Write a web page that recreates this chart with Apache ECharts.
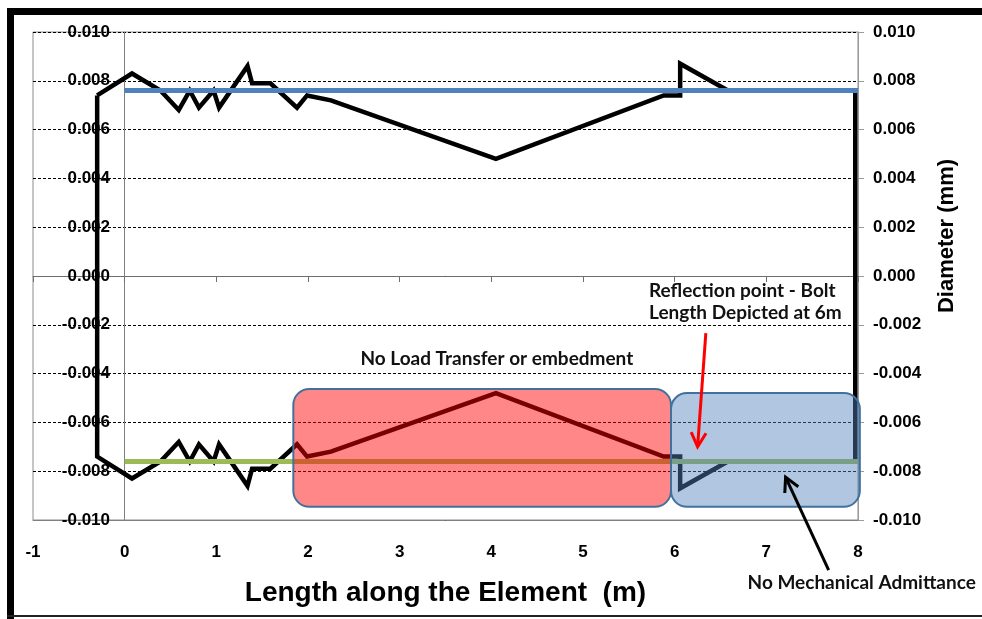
<!DOCTYPE html>
<html>
<head>
<meta charset="utf-8">
<script src="https://cdn.jsdelivr.net/npm/echarts@6/dist/echarts.min.js"></script>
<style>
  html, body { margin: 0; padding: 0; background: #fff; }
  #chart { width: 982px; height: 619px; }
</style>
</head>
<body>
<div id="chart"></div>
<script>
// Bolt profile: positions along the element (m) and the upper / lower diameter traces (mm)
const profileX = [-0.3, 0.08, 0.39, 0.59, 0.71, 0.81, 0.97, 1.03, 1.34, 1.39, 1.59, 1.88, 1.99, 2.25, 4.05, 5.88, 6.06, 6.06, 6.58, 7.97];
const upperY   = [0.0074, 0.0083, 0.0076, 0.0068, 0.0076, 0.0069, 0.0076, 0.0069, 0.0086, 0.0079, 0.0079, 0.0069, 0.0074, 0.0072, 0.0048, 0.0074, 0.0074, 0.0087, 0.0076, 0.0076];
const lowerY   = [-0.0074, -0.0083, -0.0076, -0.0068, -0.0076, -0.0069, -0.0076, -0.0069, -0.0086, -0.0079, -0.0079, -0.0069, -0.0074, -0.0072, -0.0048, -0.0074, -0.0074, -0.0087, -0.0076, -0.0076];

// Nominal diameter reference lines
const nominalX     = [0, 8];
const nominalUpper = [0.0076, 0.0076];
const nominalLower = [-0.0076, -0.0076];

// Axis ranges
const xRange = { min: -1, max: 8, step: 1 };
const yRange = { min: -0.010, max: 0.010, step: 0.002 };

// Closed outline: upper trace left to right, lower trace back right to left
const outline = profileX.map((x, i) => [x, upperY[i]])
  .concat(profileX.map((x, i) => [x, lowerY[i]]).reverse())
  .concat([[profileX[0], upperY[0]]]);

const tickFont = { fontFamily: 'Liberation Sans, Arial, sans-serif', fontWeight: 'bold', fontSize: 17, color: '#000' };
const noteFont = 'bold 19px Lato, "Open Sans", sans-serif';
const fmt = v => (Math.abs(v) < 1e-9 ? 0 : v).toFixed(3);

const chart = echarts.init(document.getElementById('chart'), null, { renderer: 'canvas' });

const option = {
  backgroundColor: '#fff',
  animation: false,
  grid: {
    left: 33, right: 124, top: 32, bottom: 99,
    show: true, borderColor: '#8c8c8c', borderWidth: 1,
    containLabel: false, outerBoundsMode: 'none'
  },
  xAxis: [
    {
      type: 'value', min: xRange.min, max: xRange.max, interval: xRange.step,
      position: 'bottom',
      axisLine: { show: true, onZero: false, lineStyle: { color: '#808080', width: 1 } },
      axisTick: { show: false },
      axisLabel: Object.assign({ margin: 24 }, tickFont),
      splitLine: { show: false },
      name: 'Length along the Element  (m)',
      nameLocation: 'middle', nameGap: 59,
      nameTextStyle: { fontFamily: 'Liberation Sans, Arial, sans-serif', fontWeight: 'bold', fontSize: 28, color: '#000' }
    },
    {
      type: 'value', min: xRange.min, max: xRange.max, interval: xRange.step,
      position: 'bottom',
      axisLine: { show: true, onZero: true, onZeroAxisIndex: 0, lineStyle: { color: '#6e6e6e', width: 1 } },
      axisTick: { show: true, inside: false, length: 6, lineStyle: { color: '#6e6e6e' } },
      axisLabel: { show: false },
      splitLine: { show: false }
    }
  ],
  yAxis: [
    {
      type: 'value', min: yRange.min, max: yRange.max, interval: yRange.step,
      position: 'left',
      axisLine: { show: true, onZero: true, onZeroAxisIndex: 0, lineStyle: { color: '#808080', width: 1 } },
      axisTick: { show: false },
      // labels sit just left of the x = 0 crossing, inside the plot
      axisLabel: Object.assign({ margin: -77, formatter: fmt }, tickFont),
      splitLine: { show: true, lineStyle: { color: '#000', width: 1, type: [3, 2] } }
    },
    {
      type: 'value', min: yRange.min, max: yRange.max, interval: yRange.step,
      position: 'right',
      axisLine: { show: true, onZero: false, lineStyle: { color: '#9a9a9a', width: 1 } },
      axisTick: { show: true, inside: false, length: 6, lineStyle: { color: '#9a9a9a' } },
      axisLabel: Object.assign({ margin: 15, formatter: fmt }, tickFont),
      splitLine: { show: false }
    }
  ],
  series: [
    {
      name: 'Profile', type: 'line', xAxisIndex: 0, yAxisIndex: 0,
      data: outline, showSymbol: false, symbol: 'none',
      lineStyle: { color: '#000', width: 4.5, join: 'miter' }, z: 2
    },
    {
      name: 'Upper nominal', type: 'line', xAxisIndex: 0, yAxisIndex: 0,
      data: nominalX.map((x, i) => [x, nominalUpper[i]]), symbol: 'none',
      lineStyle: { color: '#4F81BD', width: 5 }, z: 3
    },
    {
      name: 'Lower nominal', type: 'line', xAxisIndex: 0, yAxisIndex: 0,
      data: nominalX.map((x, i) => [x, nominalLower[i]]), symbol: 'none',
      lineStyle: { color: '#9BBB59', width: 5 }, z: 3
    }
  ]
};

chart.setOption(option);

// Annotation layer positioned in data coordinates
const px = (x, y) => chart.convertToPixel({ xAxisIndex: 0, yAxisIndex: 0 }, [x, y]);

function box(x0, y0, x1, y1, fill) {
  const a = px(x0, y0), b = px(x1, y1);
  return {
    type: 'rect', z: 20,
    shape: { x: a[0], y: a[1], width: b[0] - a[0], height: b[1] - a[1], r: 16 },
    style: { fill: fill, stroke: '#41719C', lineWidth: 2 }
  };
}

function arrow(from, to, color) {
  const a = px(from[0], from[1]), b = px(to[0], to[1]);
  const ang = Math.atan2(b[1] - a[1], b[0] - a[0]);
  const len = 16, spread = Math.PI / 6.5;
  const h1 = [b[0] - len * Math.cos(ang - spread), b[1] - len * Math.sin(ang - spread)];
  const h2 = [b[0] - len * Math.cos(ang + spread), b[1] - len * Math.sin(ang + spread)];
  return [
    { type: 'line', z: 30, shape: { x1: a[0], y1: a[1], x2: b[0], y2: b[1] }, style: { stroke: color, lineWidth: 3 } },
    { type: 'polyline', z: 30, shape: { points: [h1, b, h2] }, style: { stroke: color, lineWidth: 3, fill: null, lineJoin: 'miter' } }
  ];
}

function note(x, y, text, align) {
  const p = px(x, y);
  return {
    type: 'text', z: 40, x: p[0], y: p[1],
    style: { text: text, font: noteFont, fill: '#111', align: align || 'center', verticalAlign: 'middle', lineHeight: 22 }
  };
}

const graphics = [
  // page frame
  { type: 'rect', z: 50, shape: { x: 7, y: 8, width: 7, height: 611 }, style: { fill: '#000' } },
  { type: 'rect', z: 50, shape: { x: 7, y: 8, width: 975, height: 7 }, style: { fill: '#000' } },
  { type: 'rect', z: 50, shape: { x: 7, y: 615, width: 975, height: 2 }, style: { fill: '#222' } },
  // shaded zones
  box(1.84, -0.00463, 5.96, -0.00946, 'rgba(255,0,0,0.47)'),
  box(5.96, -0.00480, 8.02, -0.00946, 'rgba(79,129,189,0.45)'),
  // labels
  note(4.06, -0.00340, 'No Load Transfer or embedment'),
  note(5.72, -0.00107, 'Reflection point - Bolt\nLength Depicted at 6m', 'left'),
  note(8.04, -0.01256, 'No Mechanical Admittance'),
  // right axis title
  {
    type: 'text', z: 40, x: 947, y: 236, rotation: Math.PI / 2,
    style: { text: 'Diameter (mm)', font: 'bold 22px "Liberation Sans", Arial, sans-serif', fill: '#000', align: 'center', verticalAlign: 'middle' }
  }
].concat(
  arrow([6.34, -0.00234], [6.25, -0.00700], '#FF0000'),
  arrow([7.68, -0.01205], [7.21, -0.00824], '#000')
);

chart.setOption({ graphic: graphics });
</script>
</body>
</html>
